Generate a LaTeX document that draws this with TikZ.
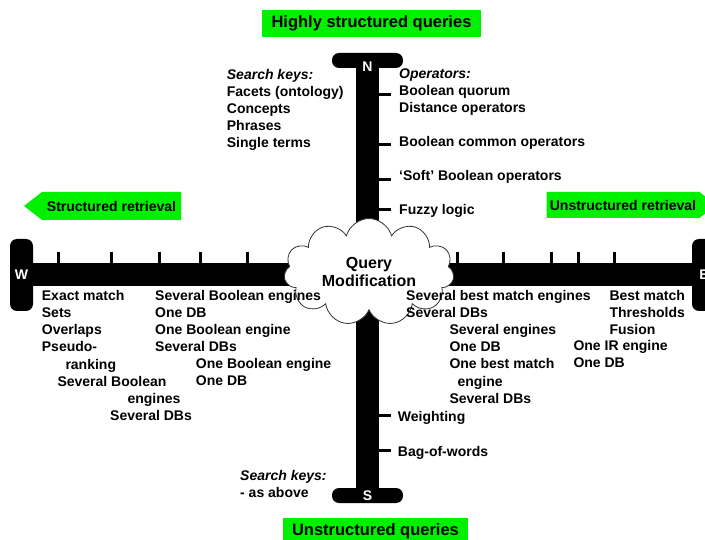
\documentclass[tikz,border=0pt]{standalone}
\usepackage{fontspec}
\setmainfont{Liberation Sans}
\usetikzlibrary{positioning,shapes.symbols}
\definecolor{lime}{RGB}{0,240,0}

\begin{document}
\begin{tikzpicture}[
  x=1pt, y=-1pt,
  lbl/.style={font=\bfseries\fontsize{14}{17}\selectfont, align=left,
              inner sep=0pt, anchor=north west, yshift=10.4pt,
              execute at begin node=\strut},
  endcap/.style={fill=black, text=white, rounded corners=7pt, inner sep=0pt,
              font=\bfseries\fontsize{14}{17}\selectfont},
  axisbar/.style={line width=23pt},
  tickmark/.style={line width=3pt},
  banner/.style={fill=lime, minimum height=27pt, inner xsep=10pt,
                 font=\bfseries\fontsize{16.5}{18}\selectfont},
  pointer/.style={signal, fill=lime, inner ysep=0pt, signal pointer angle=76,
                  font=\bfseries\fontsize{14}{17}\selectfont}
]
  \useasboundingbox (0,0) rectangle (705,540);

  % compass ends
  \node[endcap, minimum width=71pt, minimum height=15pt] (N) at (367.5,60.5) {};
  \node[endcap, minimum width=71pt, minimum height=15pt] (S) at (367.5,495.5) {S};
  \node[endcap, minimum width=23pt, minimum height=72pt] (W) at (21.5,275) {W};
  \node[endcap, minimum width=24pt, minimum height=72pt] (E) at (704,275) {E};

  % axes and ticks
  \draw[axisbar] (W) -- (E);
  \draw[axisbar] (N) -- (S);
  \node[endcap, fill=none] (Nlbl) at (367.5,66.5) {N};
  \foreach \x in {58,111,159,200,247,294,457,503,551,578,614}
    \draw[tickmark] (\x,252) -- (\x,263);
  \foreach \y in {95,145,180,210,415,450}
    \draw[tickmark] (379,\y) -- (391,\y);

  \node[cloud, draw=black!80, line width=0.8pt, fill=white, cloud puffs=11,
        aspect=1.8, minimum width=170pt, minimum height=92pt, align=center,
        font=\bfseries\fontsize{16}{18.5}\selectfont] (qm) at (369,272)
        {Query\\Modification};

  % north
  \node[lbl] (keysN) at (226.7,79.3)
    {\itshape Search keys:\\Facets (ontology)\\Concepts\\Phrases\\Single terms};
  \node[lbl] (ops) at (399,79.3)
    {\itshape Operators:\\Boolean quorum\\Distance operators\\[17pt]Boolean common operators\\[17pt]`Soft' Boolean operators\\[17pt]Fuzzy logic};

  % west
  \node[lbl] (west1) at (41.7,300.7) {Exact match\\Sets\\Overlaps\\Pseudo-};
  \node[lbl] (west2) at (65.3,368.3) {ranking};
  \node[lbl] (west3) at (57.3,385) {Several Boolean};
  \node[lbl] (west4) at (127.3,402) {engines};
  \node[lbl] (west5) at (110,419) {Several DBs};
  \node[lbl] (west6) at (155,300.7) {Several Boolean engines\\One DB\\One Boolean engine\\Several DBs};
  \node[lbl] (west7) at (195.7,368.3) {One Boolean engine\\One DB};

  % east
  \node[lbl] (east1) at (406,300.7) {Several best match engines\\Several DBs};
  \node[lbl] (east2) at (449.3,334.3) {Several engines\\One DB\\One best match};
  \node[lbl] (east3) at (457.3,385) {engine};
  \node[lbl] (east4) at (449.3,402) {Several DBs};
  \node[lbl] (east5) at (609.3,300.7) {Best match\\Thresholds\\Fusion};
  \node[lbl] (east6) at (573.3,351) {One IR engine\\One DB};

  % south
  \node[lbl] (wgt) at (397.7,420) {Weighting};
  \node[lbl] (bow) at (397.7,454.3) {Bag-of-words};
  \node[lbl] (keysS) at (240,480.7) {\itshape Search keys:\\- as above};

  % banners
  \node[banner] (hsq) at (371.5,23.5) {Highly structured queries};
  \node[banner, inner xsep=9pt] (usq) at (375.5,531.5) {Unstructured queries};
  \node[pointer, signal to=west, minimum width=157pt, minimum height=28pt]
    (sr) at (111.5,206) {Structured retrieval};
  \node[pointer, signal to=east, minimum width=168pt, minimum height=26pt]
    (ur) at (623,205) {Unstructured retrieval};
\end{tikzpicture}
\end{document}
